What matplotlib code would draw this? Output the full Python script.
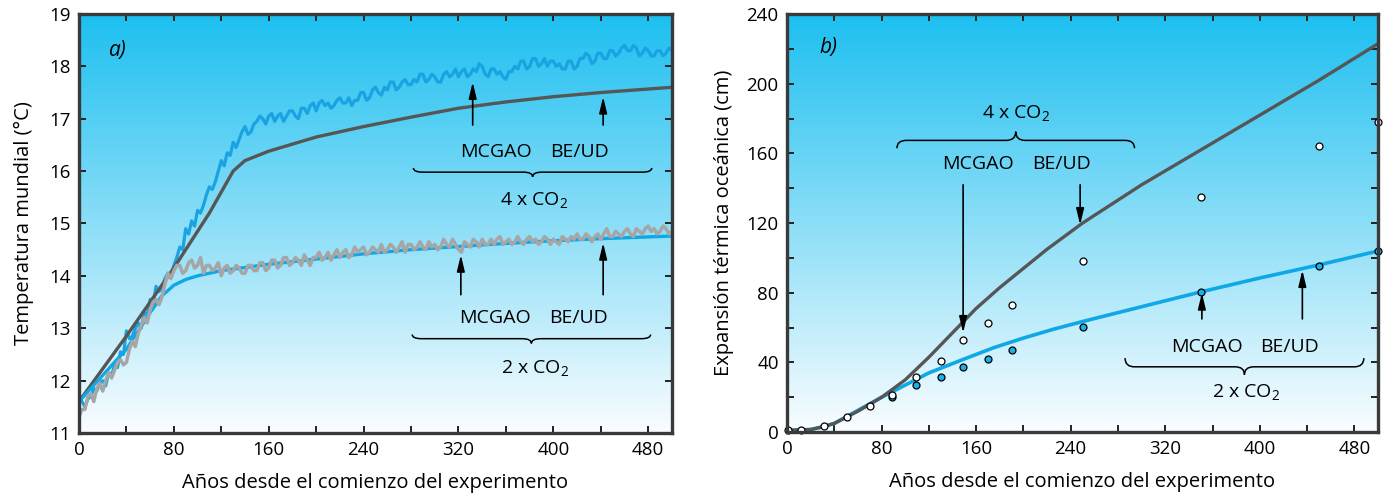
import numpy as np
import matplotlib
matplotlib.use('Agg')
import matplotlib.pyplot as plt
from matplotlib.colors import LinearSegmentedColormap
from matplotlib.path import Path
from matplotlib.patches import PathPatch

plt.rcParams['font.family'] = ['Open Sans', 'DejaVu Sans']
plt.rcParams['mathtext.default'] = 'regular'
plt.rcParams['font.size'] = 13

# --- datos panel a) (cada 2,5 años) ---
anios_a = np.arange(0, 500.1, 2.5)
mcgao_4x = [11.75, 11.6, 11.5, 11.65, 11.7, 11.85, 11.8, 11.95, 12.0, 11.9,
            12.15, 12.1, 12.3, 12.25, 12.55, 12.5, 12.95, 12.8, 12.85, 13.0,
            13.1, 13.0, 13.3, 13.25, 13.55, 13.45, 13.8, 13.7, 13.75, 13.95,
            14.05, 14.0, 14.2, 14.35, 14.55, 14.5, 14.9, 14.8, 15.05, 14.95,
            15.25, 15.2, 15.35, 15.55, 15.7, 15.65, 15.8, 16.0, 16.2, 16.1,
            16.35, 16.3, 16.55, 16.45, 16.6, 16.75, 16.85, 16.7, 16.75, 16.9,
            16.95, 17.05, 17.0, 16.9, 17.05, 17.1, 16.95, 17.05, 17.1, 16.95,
            17.05, 17.15, 17.15, 17.05, 17.0, 17.2, 17.2, 17.1, 17.25, 17.3,
            17.15, 17.3, 17.35, 17.25, 17.3, 17.2, 17.25, 17.35, 17.4, 17.3,
            17.3, 17.4, 17.25, 17.35, 17.35, 17.5, 17.5, 17.35, 17.4, 17.55,
            17.6, 17.5, 17.45, 17.6, 17.55, 17.7, 17.7, 17.55, 17.6, 17.7,
            17.75, 17.65, 17.65, 17.75, 17.7, 17.85, 17.85, 17.7, 17.75, 17.85,
            17.8, 17.7, 17.7, 17.85, 17.9, 17.8, 17.85, 17.95, 17.8, 17.9,
            17.95, 17.8, 17.85, 17.95, 17.9, 18.05, 18.0, 17.85, 17.8, 17.95,
            17.95, 17.85, 17.9, 17.8, 17.75, 17.9, 17.9, 18.0, 17.95, 18.1,
            18.1, 17.95, 18.0, 18.15, 18.15, 18.0, 18.05, 18.15, 18.0, 18.1,
            18.1, 18.0, 18.05, 17.95, 17.95, 18.1, 18.1, 17.95, 18.0, 18.15,
            18.15, 18.25, 18.2, 18.05, 18.1, 18.25, 18.25, 18.15, 18.15, 18.3,
            18.3, 18.2, 18.25, 18.35, 18.4, 18.3, 18.3, 18.4, 18.35, 18.2,
            18.25, 18.35, 18.3, 18.2, 18.2, 18.3, 18.3, 18.2, 18.25, 18.35,
            18.3]
mcgao_2x = [11.3, 11.45, 11.45, 11.7, 11.75, 11.6, 11.85, 11.95, 11.8, 12.0,
            12.15, 12.05, 12.2, 12.35, 12.4, 12.3, 12.35, 12.6, 12.75, 12.65,
            12.9, 13.05, 13.2, 13.1, 13.35, 13.5, 13.55, 13.45, 13.6, 13.85,
            14.05, 13.95, 14.1, 14.2, 14.2, 14.05, 14.1, 14.25, 14.3, 14.15,
            14.2, 14.35, 14.05, 14.2, 14.2, 14.1, 14.15, 14.25, 14.0, 14.15,
            14.2, 14.05, 14.1, 14.2, 14.15, 14.05, 14.05, 14.2, 14.2, 14.1,
            14.1, 14.25, 14.25, 14.1, 14.15, 14.3, 14.3, 14.15, 14.2, 14.35,
            14.35, 14.2, 14.25, 14.35, 14.3, 14.2, 14.4, 14.3, 14.2, 14.35,
            14.35, 14.45, 14.3, 14.35, 14.45, 14.3, 14.4, 14.5, 14.35, 14.45,
            14.5, 14.35, 14.4, 14.55, 14.45, 14.5, 14.55, 14.4, 14.45, 14.55,
            14.5, 14.45, 14.6, 14.45, 14.5, 14.6, 14.55, 14.45, 14.55, 14.65,
            14.45, 14.6, 14.6, 14.5, 14.55, 14.65, 14.55, 14.5, 14.65, 14.55,
            14.6, 14.5, 14.55, 14.7, 14.6, 14.55, 14.7, 14.6, 14.5, 14.45,
            14.65, 14.6, 14.55, 14.7, 14.65, 14.55, 14.7, 14.6, 14.6, 14.7,
            14.6, 14.7, 14.75, 14.6, 14.65, 14.7, 14.6, 14.65, 14.75, 14.65,
            14.6, 14.7, 14.75, 14.65, 14.7, 14.6, 14.65, 14.75, 14.7, 14.6,
            14.7, 14.65, 14.6, 14.75, 14.7, 14.65, 14.75, 14.7, 14.8, 14.7,
            14.7, 14.8, 14.75, 14.65, 14.75, 14.8, 14.7, 14.8, 14.9, 14.75,
            14.75, 14.85, 14.8, 14.75, 14.85, 14.9, 14.8, 14.75, 14.9, 14.85,
            14.8, 14.9, 14.95, 14.85, 14.9, 14.8, 14.85, 14.95, 14.9, 14.8,
            14.85]

anios_beud4 = [0, 40, 80, 110, 130, 140, 160, 200, 240, 280, 320, 360, 400, 440, 500]
beud_4x = [11.6, 12.85, 14.15, 15.2, 16.0, 16.2, 16.38, 16.65, 16.85, 17.03,
           17.2, 17.32, 17.42, 17.5, 17.6]
anios_beud2 = [0, 40, 60, 70, 80, 90, 100, 120, 160, 200, 240, 280, 320, 360, 400, 440, 500]
beud_2x = [11.6, 12.6, 13.3, 13.62, 13.82, 13.93, 14.0, 14.1, 14.22, 14.32,
           14.42, 14.5, 14.56, 14.62, 14.67, 14.71, 14.76]

# --- datos panel b) ---
anios_b = [0, 20, 30, 40, 60, 80, 100, 120, 140, 150, 160, 180, 200, 220, 250,
           300, 350, 400, 450, 500]
exp_beud_4x = [1, 1.5, 3, 5, 12, 20, 30, 43, 57, 64, 71, 83, 94, 105, 120,
               142, 162, 182, 202, 223]
anios_b2 = [0, 20, 30, 40, 60, 80, 100, 120, 150, 175, 200, 225, 250, 300, 350,
            400, 450, 500]
exp_beud_2x = [1, 1.5, 3, 5, 12.5, 20, 27, 34, 42, 48.5, 54, 59, 63.5, 72, 80.5,
               88.5, 96, 104]

anios_pts = [1, 12, 31, 51, 70, 89, 109, 130, 149, 170, 190, 250, 350, 450, 500]
exp_mcgao_4x = [1, 1, 3.5, 8.8, 15, 21.6, 31.6, 40.9, 52.8, 62.7, 72.8, 98, 135, 164, 178]
anios_pts2 = [89, 109, 130, 149, 170, 190, 250, 350, 450, 500]
exp_mcgao_2x = [20.1, 27, 31.6, 37.5, 42, 47, 60.3, 80.4, 95.5, 104]

azul = '#0FA8E6'
azul_ruido = '#1AA3E2'
gris_osc = '#565656'
gris_cl = '#A6A6A6'
marco = '#3A3A3A'

fondo = LinearSegmentedColormap.from_list('fondo', ['#FAFDFF', '#1CBFF0'])


def preparar(ax, ymin, ymax):
    grad = np.linspace(0, 1, 256).reshape(-1, 1)
    ax.imshow(grad, extent=[0, 500, ymin, ymax], aspect='auto', cmap=fondo,
              origin='lower', zorder=0)
    ax.set_xlim(0, 500)
    ax.set_ylim(ymin, ymax)
    for s in ax.spines.values():
        s.set_linewidth(2.4)
        s.set_color(marco)
        s.set_zorder(10)
    ax.tick_params(which='both', direction='in', top=True, right=True,
                   length=5, width=1.4, color='#222222', labelsize=13.5, pad=6)


def llave(ax, x0, x1, y_fin, y_barra, y_punta, r=8):
    xm = (x0 + x1) / 2
    verts = [(x0, y_fin), (x0, y_barra), (x0 + r, y_barra), (xm - r, y_barra),
             (xm, y_barra), (xm, y_punta), (xm, y_barra), (xm + r, y_barra),
             (x1 - r, y_barra), (x1, y_barra), (x1, y_fin)]
    codes = [Path.MOVETO, Path.CURVE3, Path.CURVE3, Path.LINETO,
             Path.CURVE3, Path.CURVE3, Path.CURVE3, Path.CURVE3,
             Path.LINETO, Path.CURVE3, Path.CURVE3]
    ax.add_patch(PathPatch(Path(verts, codes), fill=False, lw=1.1,
                           color='black', zorder=6))


def flecha(ax, x, y0, y1):
    ax.annotate('', xy=(x, y1), xytext=(x, y0),
                arrowprops=dict(arrowstyle='-|>,head_length=0.75,head_width=0.18',
                                color='black', lw=1.2, shrinkA=0, shrinkB=0),
                zorder=7)


fs = 14
fig = plt.figure(figsize=(13.88, 4.95), dpi=100)
ax1 = fig.add_axes([0.0569, 0.1253, 0.4272, 0.8465])
ax2 = fig.add_axes([0.567, 0.127, 0.4258, 0.8445])

# ---- panel a) ----
preparar(ax1, 11, 19)
ax1.plot(anios_a, mcgao_4x, color=azul_ruido, lw=2.3, zorder=2)
ax1.plot(anios_beud4, beud_4x, color=gris_osc, lw=2.4, zorder=3)
ax1.plot(anios_beud2, beud_2x, color=azul, lw=2.4, zorder=3)
ax1.plot(anios_a, mcgao_2x, color=gris_cl, lw=2.5, zorder=4)
ax1.set_xticks(np.arange(0, 481, 80))
ax1.set_xticks(np.arange(40, 481, 80), minor=True)
ax1.set_yticks(np.arange(11, 20, 1))
ax1.set_xlabel('Años desde el comienzo del experimento', fontsize=14.5, labelpad=10)
ax1.set_ylabel('Temperatura mundial (°C)', fontsize=14.5, labelpad=11)
ax1.text(33, 18.3, 'a)', fontsize=15, style='italic', ha='center', va='center')

flecha(ax1, 332, 16.88, 17.7)
flecha(ax1, 442, 16.88, 17.42)
ax1.text(352, 16.37, 'MCGAO', ha='center', va='center', fontsize=fs)
ax1.text(422, 16.37, 'BE/UD', ha='center', va='center', fontsize=fs)
llave(ax1, 282, 483, 16.06, 15.98, 15.89)
ax1.text(384, 15.45, '4 x CO$_2$', ha='center', va='center', fontsize=fs)

flecha(ax1, 322, 13.64, 14.4)
flecha(ax1, 442, 13.64, 14.63)
ax1.text(351, 13.2, 'MCGAO', ha='center', va='center', fontsize=fs)
ax1.text(421, 13.2, 'BE/UD', ha='center', va='center', fontsize=fs)
llave(ax1, 281, 482, 12.88, 12.8, 12.71)
ax1.text(385, 12.24, '2 x CO$_2$', ha='center', va='center', fontsize=fs)

# ---- panel b) ----
preparar(ax2, 0, 240)
ax2.plot(anios_b2, exp_beud_2x, color=azul, lw=2.6, zorder=2)
ax2.plot(anios_b, exp_beud_4x, color=gris_osc, lw=2.4, zorder=3)
ax2.plot(anios_pts2, exp_mcgao_2x, 'o', ms=5, mfc='#1AB0E8', mec='black',
         mew=0.9, zorder=5, clip_on=False)
ax2.plot(anios_pts, exp_mcgao_4x, 'o', ms=5, mfc='white', mec='black',
         mew=0.9, zorder=5, clip_on=False)
ax2.set_xticks(np.arange(0, 481, 80))
ax2.set_xticks(np.arange(40, 481, 80), minor=True)
ax2.set_yticks(np.arange(0, 241, 40))
ax2.set_yticks(np.arange(20, 241, 40), minor=True)
ax2.set_xlabel('Años desde el comienzo del experimento', fontsize=14.5, labelpad=10)
ax2.set_ylabel('Expansión térmica oceánica (cm)', fontsize=14.5, labelpad=9)
ax2.text(35, 221, 'b)', fontsize=15, style='italic', ha='center', va='center')

ax2.text(194, 183, '4 x CO$_2$', ha='center', va='center', fontsize=fs)
llave(ax2, 93, 294, 163, 167.5, 172.5)
ax2.text(162, 154, 'MCGAO', ha='center', va='center', fontsize=fs)
ax2.text(232, 154, 'BE/UD', ha='center', va='center', fontsize=fs)
flecha(ax2, 149, 142, 57)
flecha(ax2, 248, 142, 119)

flecha(ax2, 351, 65, 80)
flecha(ax2, 436, 65, 93)
ax2.text(355, 49, 'MCGAO', ha='center', va='center', fontsize=fs)
ax2.text(425, 49, 'BE/UD', ha='center', va='center', fontsize=fs)
llave(ax2, 286, 488, 42.5, 37.5, 33)
ax2.text(388, 23, '2 x CO$_2$', ha='center', va='center', fontsize=fs)

fig.savefig('out.png', dpi=100)
